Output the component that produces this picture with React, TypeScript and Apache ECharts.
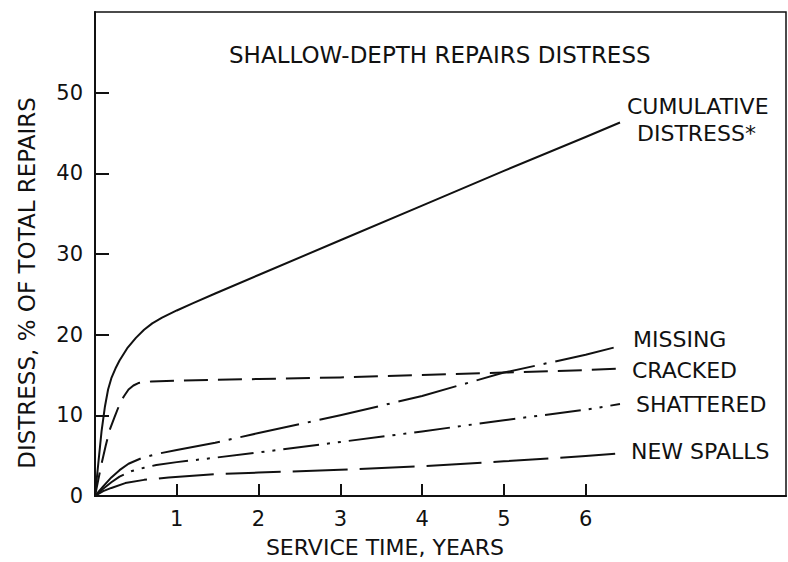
import React, { useEffect, useRef } from "react";
import * as echarts from "echarts";

// Service time (years) vs distress (% of total repairs)
const cumulative: [number, number][] = [
  [0, 0], [0.04, 4], [0.08, 8], [0.12, 11], [0.16, 13.2], [0.2, 14.6],
  [0.25, 15.8], [0.3, 16.8], [0.4, 18.4], [0.5, 19.6], [0.6, 20.6],
  [0.7, 21.4], [0.82, 22.1], [1, 23.0], [1.2, 23.9], [1.47, 25.1],
  [2, 27.4], [3, 31.7], [4, 36.0], [5, 40.3], [6, 44.5], [6.42, 46.3],
];
const cracked: [number, number][] = [
  [0, 0], [0.04, 2], [0.08, 4.0], [0.13, 6.2], [0.18, 8.2], [0.24, 9.8],
  [0.29, 11.1], [0.35, 12.3], [0.41, 13.2], [0.47, 13.7], [0.53, 14.0],
  [0.69, 14.2], [1, 14.3], [2, 14.5], [3, 14.7], [4, 15.0], [5, 15.3],
  [6, 15.6], [6.42, 15.8],
];
const missing: [number, number][] = [
  [0, 0], [0.1, 1.2], [0.2, 2.3], [0.3, 3.2], [0.41, 4.0], [0.57, 4.7],
  [0.75, 5.2], [1, 5.7], [1.47, 6.6], [2, 7.8], [3, 10.0], [4, 12.4],
  [5, 15.3], [6, 17.5], [6.42, 18.6],
];
const shattered: [number, number][] = [
  [0, 0], [0.1, 0.9], [0.2, 1.7], [0.3, 2.4], [0.45, 3.1], [0.6, 3.5],
  [0.75, 3.85], [1, 4.2], [1.43, 4.7], [2, 5.4], [3, 6.7], [4, 8.0],
  [5, 9.4], [6, 10.7], [6.42, 11.4],
];
const newSpalls: [number, number][] = [
  [0, 0], [0.1, 0.6], [0.2, 1.0], [0.37, 1.6], [0.6, 2.0], [0.9, 2.3],
  [1.47, 2.7], [2, 2.9], [3, 3.25], [4, 3.7], [5, 4.3], [6, 4.95],
  [6.42, 5.3],
];

const xTicks = [1, 2, 3, 4, 5, 6];
const yTicks = [0, 10, 20, 30, 40, 50];

const title = "SHALLOW-DEPTH REPAIRS DISTRESS";
const xName = "SERVICE TIME, YEARS";
const yName = "DISTRESS, % OF TOTAL REPAIRS";
const seriesLabels = {
  cumulative1: "CUMULATIVE",
  cumulative2: "DISTRESS*",
  missing: "MISSING",
  cracked: "CRACKED",
  shattered: "SHATTERED",
  newSpalls: "NEW SPALLS",
};

const INK = "#111";
const FONT = "DejaVu Sans";

export default function App() {
  const ref = useRef<HTMLDivElement>(null);
  useEffect(() => {
    const chart = echarts.init(ref.current!, null, { renderer: "svg" });
    const line = (name: string, data: [number, number][], type: any) => ({
      name,
      type: "line",
      data,
      showSymbol: false,
      symbol: "none",
      smooth: false,
      lineStyle: { color: INK, width: 2, type, join: "round", cap: "butt" },
    });
    const txt = (text: string, x: number, y: number, size = 22, extra: any = {}) => ({
      type: "text",
      x,
      y,
      silent: true,
      ...extra,
      style: {
        text,
        fill: INK,
        fontSize: size,
        fontFamily: FONT,
        align: "left",
        verticalAlign: "middle",
        ...(extra.style || {}),
      },
    });
    chart.setOption({
      animation: false,
      backgroundColor: "#fff",
      grid: {
        left: 95,
        right: 2,
        top: 12,
        bottom: 66,
        show: true,
        borderColor: INK,
        borderWidth: 1.5,
        backgroundColor: "transparent",
      },
      xAxis: {
        type: "value",
        min: 0,
        max: 8.45,
        interval: 1,
        splitLine: { show: false },
        axisLine: { show: true, lineStyle: { color: INK, width: 2 } },
        axisTick: {
          show: true,
          inside: true,
          length: 12,
          customValues: xTicks,
          lineStyle: { color: INK, width: 2 },
        },
        axisLabel: {
          customValues: xTicks,
          color: INK,
          fontSize: 21,
          fontFamily: FONT,
          margin: 12,
        },
      },
      yAxis: {
        type: "value",
        min: 0,
        max: 60,
        interval: 10,
        splitLine: { show: false },
        axisLine: { show: true, lineStyle: { color: INK, width: 2 } },
        axisTick: {
          show: true,
          inside: true,
          length: 14,
          customValues: yTicks,
          lineStyle: { color: INK, width: 2 },
        },
        axisLabel: {
          customValues: yTicks,
          color: INK,
          fontSize: 21,
          fontFamily: FONT,
          margin: 12,
        },
      },
      series: [
        line("Cumulative distress", cumulative, "solid"),
        line("Cracked", cracked, [24, 10]),
        line("Missing", missing, [60, 9, 3, 9]),
        line("Shattered", shattered, [36, 8, 3, 8, 3, 8]),
        line("New spalls", newSpalls, [55, 12]),
      ],
      graphic: [
        txt(title, 229, 55, 23),
        txt(seriesLabels.cumulative1, 627, 106, 22),
        txt(seriesLabels.cumulative2, 637, 133, 22),
        txt(seriesLabels.missing, 633, 339, 22),
        txt(seriesLabels.cracked, 632, 370, 22),
        txt(seriesLabels.shattered, 636, 404, 22),
        txt(seriesLabels.newSpalls, 631, 451, 22),
        txt(xName, 385, 547, 22, { style: { align: "center" } }),
        txt(yName, 27, 283, 23, {
          rotation: Math.PI / 2,
          style: { align: "center" },
        }),
      ],
    });
    return () => chart.dispose();
  }, []);
  return (
    <div
      ref={ref}
      style={{ position: "absolute", left: 0, top: 0, width: 788, height: 562 }}
    />
  );
}
